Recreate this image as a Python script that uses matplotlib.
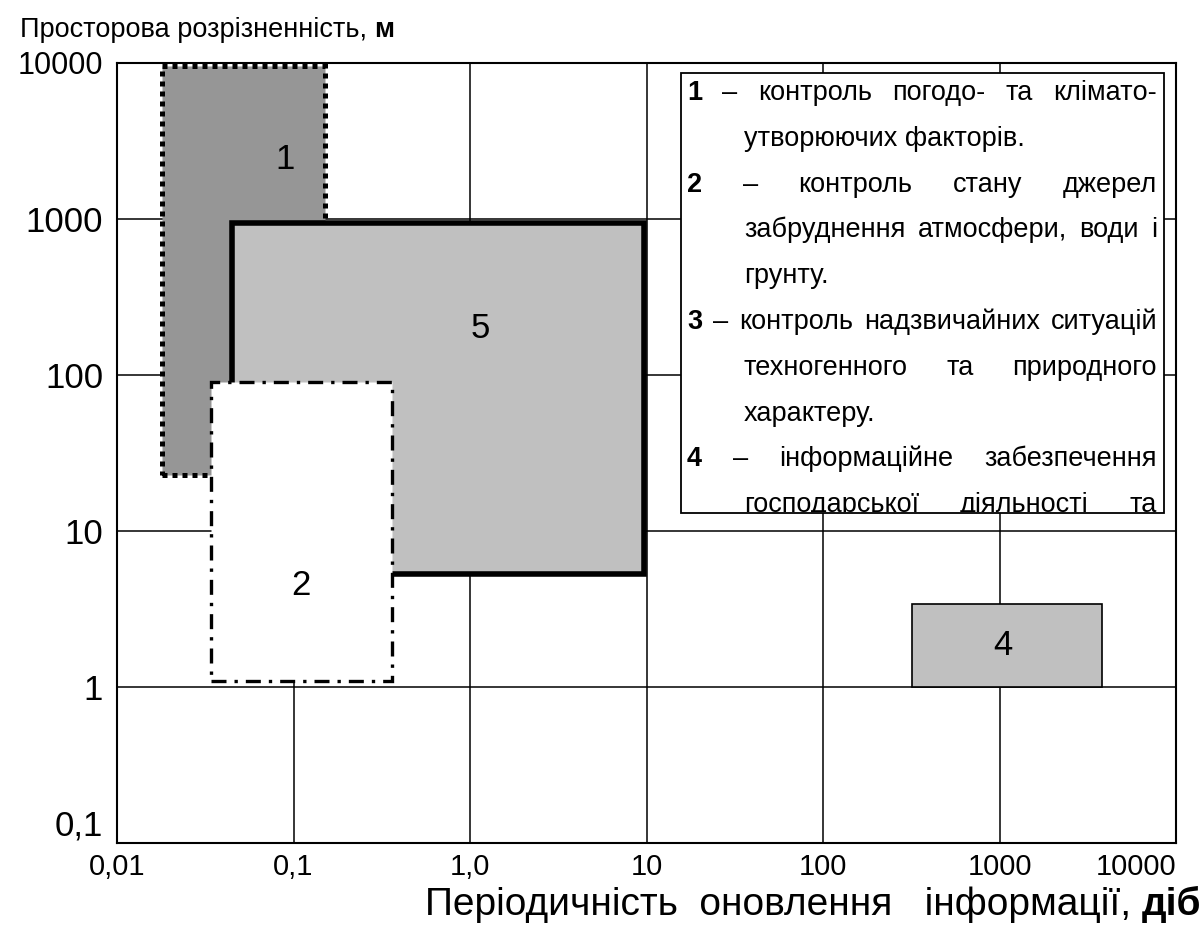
import matplotlib
matplotlib.use('Agg')
import matplotlib.pyplot as plt
from matplotlib.patches import Rectangle
from matplotlib.ticker import NullLocator, FixedLocator, FixedFormatter
from matplotlib.transforms import Bbox, IdentityTransform

plt.rcParams['font.family'] = ['Liberation Sans', 'DejaVu Sans']

# ---------------- data ----------------
zone_ids = ['1', '5', '2', '4']
period_min = [0.018, 0.045, 0.034, 320]      # days
period_max = [0.15, 9.7, 0.36, 3800]
res_min = [23, 5.3, 1.1, 1.0]                # metres
res_max = [9500, 940, 90, 3.4]
label_x = [0.09, 1.15, 0.11, 1050]
label_y = [2400, 200, 4.5, 1.85]

x_ticks = [0.01, 0.1, 1, 10, 100, 1000, 10000]
x_tick_labels = ['0,01', '0,1', '1,0', '10', '100', '1000', '10000']
y_ticks = [0.1, 1, 10, 100, 1000, 10000]
y_tick_labels = ['0,1', '1', '10', '100', '1000', '10000']

y_title = 'Просторова розрізненність, '
y_title_unit = 'м'
x_title = 'Періодичність  оновлення   інформації, '
x_title_unit = 'діб'

legend_lines = [
    (['1', '–', 'контроль', 'погодо-', 'та', 'кліматo-'], True, False),
    (['утворюючих факторів.'], False, True),
    (['2', '–', 'контроль', 'стану', 'джерел'], True, False),
    (['забруднення', 'атмосфери,', 'води', 'і'], False, True),
    (['грунту.'], False, True),
    (['3', '–', 'контроль', 'надзвичайних', 'ситуацій'], True, False),
    (['техногенного', 'та', 'природного'], False, True),
    (['характеру.'], False, True),
    (['4', '–', 'інформаційне', 'забезпечення'], True, False),
    (['господарської', 'діяльності', 'та'], False, True),
]

# ---------------- styles ----------------
styles = {
    '1': dict(fc='#969696', ls=(0, (1, 1)), lw=3.6, z=2),
    '5': dict(fc='#c0c0c0', ls='-', lw=4.0, z=3),
    '2': dict(fc='white', ls=(0, (4.5, 2.4, 1, 2.4)), lw=2.4, z=4),
    '4': dict(fc='#c0c0c0', ls='-', lw=1.2, z=3),
}

W, H = 1203, 927
fig = plt.figure(figsize=(W / 100, H / 100), dpi=100)
ax = fig.add_axes([117 / W, 1 - 843 / H, (1176 - 117) / W, (843 - 63) / H])
ax.set_xscale('log')
ax.set_yscale('log')
ax.set_xlim(x_ticks[0], x_ticks[-1])
ax.set_ylim(y_ticks[0], y_ticks[-1])
ax.xaxis.set_major_locator(FixedLocator(x_ticks))
ax.xaxis.set_major_formatter(FixedFormatter(x_tick_labels))
ax.yaxis.set_major_locator(FixedLocator(y_ticks))
ax.yaxis.set_major_formatter(FixedFormatter(y_tick_labels))
ax.xaxis.set_minor_locator(NullLocator())
ax.yaxis.set_minor_locator(NullLocator())
ax.tick_params(axis='x', length=0, pad=7, labelsize=21)
ax.tick_params(axis='y', length=0, pad=10, labelsize=25)
ax.grid(True, which='major', color='black', lw=1.1)
ax.set_axisbelow(True)
for s in ax.spines.values():
    s.set_linewidth(1.5)
    s.set_zorder(1)

for zid, x0, x1, y0, y1, lx, ly in zip(zone_ids, period_min, period_max,
                                       res_min, res_max, label_x, label_y):
    st = styles[zid]
    r = Rectangle((x0, y0), x1 - x0, y1 - y0, facecolor=st['fc'],
                  edgecolor='black', linestyle=st['ls'], linewidth=st['lw'],
                  zorder=st['z'], capstyle='butt', joinstyle='miter')
    ax.add_patch(r)
    ax.text(lx, ly, zid, fontsize=25, ha='center', va='center', zorder=10)

fig.canvas.draw()
ren = fig.canvas.get_renderer()

# tick label alignment at edges
xl = ax.get_xticklabels()
xl[-1].set_ha('right')
yl = ax.get_yticklabels()
yl[-1].set_fontsize(22)
yl[0].set_va('bottom')

# ---------------- titles ----------------
ident = IdentityTransform()
t1 = fig.text(20, H - 37, y_title, fontsize=19.5, ha='left', va='baseline',
              transform=ident)
fig.canvas.draw()
bb = t1.get_window_extent(ren)
fig.text(bb.x1, H - 37, y_title_unit, fontsize=19.5, weight='bold', ha='left',
         va='baseline', transform=ident)

t2 = fig.text(1201, H - 915, x_title_unit, fontsize=28, weight='bold',
              ha='right', va='baseline', transform=ident)
fig.canvas.draw()
bb = t2.get_window_extent(ren)
fig.text(bb.x0, H - 915, x_title, fontsize=28, ha='right', va='baseline',
         transform=ident)

# ---------------- legend box ----------------
LX0, LX1, LY0, LY1 = 681, 1164, 73, 513
leg = Rectangle((LX0, H - LY1), LX1 - LX0, LY1 - LY0, transform=ident,
                facecolor='white', edgecolor='black', linewidth=1.3, zorder=20)
fig.add_artist(leg)
clip = Bbox.from_extents(LX0 + 1, H - LY1 + 1, LX1 - 1, H - LY0 - 1)

LFS = 19.5
TXT_L, TXT_IND, TXT_R = 687, 744, 1157
base0, step = 100, 45.8
for i, (words, numbered, indented) in enumerate(legend_lines):
    yb = H - (base0 + i * step)
    xs = TXT_IND if indented else TXT_L
    objs = []
    for j, w in enumerate(words):
        t = fig.text(0, yb, w, fontsize=LFS, ha='left', va='baseline',
                     weight='bold' if (numbered and j == 0) else 'normal',
                     transform=ident, zorder=21)
        t.set_clip_box(clip)
        t.set_clip_on(True)
        objs.append(t)
    fig.canvas.draw()
    widths = [o.get_window_extent(ren).width for o in objs]
    if len(objs) > 1:
        gap = (TXT_R - xs - sum(widths)) / (len(objs) - 1)
    else:
        gap = 0
    x = xs
    for o, w in zip(objs, widths):
        o.set_x(x)
        x += w + gap

fig.savefig('out.png', dpi=100)
